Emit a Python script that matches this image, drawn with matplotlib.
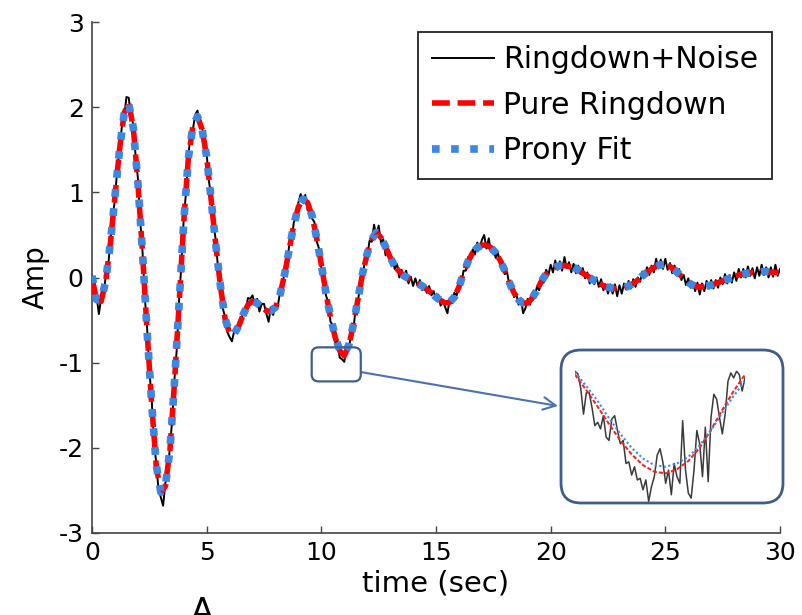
import numpy as np
import matplotlib
matplotlib.use('Agg')
import matplotlib.pyplot as plt
from matplotlib.patches import FancyBboxPatch

plt.rcParams['axes.unicode_minus'] = False

# model curves, sampled every 0.2 s from 0 to 30 s
pure_ringdown = [
    0.00, -0.27, -0.28, -0.04, 0.40, 0.95, 1.50, 1.93, 2.05, 1.76,
    1.12, 0.30, -0.62, -1.48, -2.21, -2.53, -2.45, -2.02, -1.22, -0.30,
    0.65, 1.40, 1.78, 1.89, 1.74, 1.42, 0.90, 0.38, -0.10, -0.48,
    -0.66, -0.66, -0.57, -0.43, -0.32, -0.28, -0.30, -0.35, -0.39, -0.40,
    -0.35, -0.20, 0.04, 0.33, 0.62, 0.83, 0.92, 0.88, 0.72, 0.46,
    0.15, -0.18, -0.47, -0.70, -0.86, -0.92, -0.80, -0.55, -0.25, 0.05,
    0.28, 0.45, 0.53, 0.47, 0.36, 0.24, 0.13, 0.07, 0.02, -0.01,
    -0.04, -0.07, -0.10, -0.14, -0.18, -0.23, -0.27, -0.30, -0.29, -0.23,
    -0.11, 0.05, 0.19, 0.29, 0.35, 0.38, 0.38, 0.35, 0.29, 0.20,
    0.08, -0.06, -0.18, -0.26, -0.30, -0.30, -0.24, -0.15, -0.04, 0.04,
    0.09, 0.12, 0.14, 0.14, 0.13, 0.12, 0.09, 0.05, 0.02, -0.02,
    -0.05, -0.08, -0.11, -0.12, -0.13, -0.13, -0.12, -0.10, -0.07, -0.03,
    0.02, 0.06, 0.10, 0.13, 0.15, 0.15, 0.13, 0.09, 0.04, -0.01,
    -0.06, -0.09, -0.11, -0.11, -0.10, -0.09, -0.07, -0.05, -0.03, -0.01,
    0.01, 0.03, 0.04, 0.05, 0.06, 0.06, 0.07, 0.07, 0.06, 0.06,
    0.06,
]

prony_fit = [
    0.02, -0.26, -0.27, -0.04, 0.40, 0.95, 1.50, 1.92, 2.04, 1.76,
    1.12, 0.30, -0.62, -1.47, -2.20, -2.52, -2.45, -2.02, -1.22, -0.30,
    0.65, 1.40, 1.78, 1.89, 1.74, 1.42, 0.90, 0.38, -0.10, -0.48,
    -0.65, -0.66, -0.57, -0.43, -0.32, -0.28, -0.30, -0.35, -0.38, -0.39,
    -0.35, -0.20, 0.04, 0.33, 0.62, 0.83, 0.92, 0.88, 0.72, 0.46,
    0.15, -0.18, -0.46, -0.69, -0.85, -0.90, -0.79, -0.55, -0.25, 0.05,
    0.28, 0.45, 0.53, 0.47, 0.36, 0.24, 0.13, 0.07, 0.02, -0.01,
    -0.04, -0.07, -0.10, -0.14, -0.18, -0.23, -0.27, -0.29, -0.29, -0.23,
    -0.11, 0.05, 0.19, 0.29, 0.35, 0.38, 0.38, 0.35, 0.29, 0.20,
    0.08, -0.06, -0.18, -0.26, -0.30, -0.30, -0.24, -0.15, -0.04, 0.04,
    0.09, 0.12, 0.14, 0.14, 0.13, 0.12, 0.09, 0.05, 0.02, -0.02,
    -0.05, -0.08, -0.11, -0.12, -0.13, -0.13, -0.12, -0.10, -0.07, -0.03,
    0.02, 0.06, 0.10, 0.13, 0.15, 0.15, 0.13, 0.09, 0.04, -0.01,
    -0.06, -0.09, -0.11, -0.11, -0.10, -0.09, -0.07, -0.05, -0.03, -0.01,
    0.01, 0.03, 0.04, 0.05, 0.06, 0.06, 0.07, 0.07, 0.06, 0.06,
    0.06,
]

# measured signal, sampled every 0.1 s from 0 to 30 s
ringdown_noise = [
    0.03, -0.22, -0.22, -0.43, -0.24, -0.21, 0.02, 0.12, 0.42, 0.72,
    0.91, 1.28, 1.48, 1.77, 1.87, 2.12, 2.11, 1.90, 1.80, 1.43,
    1.17, 0.68, 0.32, -0.22, -0.58, -1.09, -1.42, -1.91, -2.18, -2.49,
    -2.58, -2.68, -2.41, -2.33, -1.97, -1.67, -1.18, -0.83, -0.25, 0.16,
    0.69, 1.00, 1.43, 1.68, 1.74, 1.91, 1.96, 1.81, 1.78, 1.55,
    1.45, 1.13, 0.94, 0.62, 0.43, 0.09, -0.07, -0.36, -0.46, -0.64,
    -0.70, -0.75, -0.63, -0.64, -0.52, -0.54, -0.37, -0.40, -0.24, -0.25,
    -0.21, -0.32, -0.25, -0.40, -0.31, -0.31, -0.42, -0.52, -0.35, -0.44,
    -0.31, -0.34, -0.17, -0.13, 0.10, 0.16, 0.38, 0.42, 0.65, 0.70,
    0.88, 0.98, 0.88, 0.97, 0.79, 0.85, 0.69, 0.65, 0.42, 0.34,
    0.11, 0.03, -0.21, -0.29, -0.52, -0.56, -0.76, -0.75, -0.94, -0.96,
    -0.99, -0.83, -0.84, -0.65, -0.60, -0.36, -0.28, -0.05, 0.01, 0.20,
    0.24, 0.43, 0.42, 0.62, 0.48, 0.61, 0.41, 0.45, 0.26, 0.34,
    0.19, 0.22, 0.10, 0.16, 0.00, 0.09, 0.00, 0.08, -0.07, 0.01,
    -0.10, -0.01, -0.10, -0.03, -0.15, -0.10, -0.18, -0.10, -0.21, -0.16,
    -0.27, -0.20, -0.33, -0.26, -0.35, -0.42, -0.25, -0.30, -0.18, -0.21,
    -0.07, -0.08, 0.08, 0.08, 0.24, 0.22, 0.33, 0.27, 0.41, 0.34,
    0.44, 0.50, 0.34, 0.46, 0.30, 0.35, 0.23, 0.29, 0.17, 0.19,
    0.04, 0.06, -0.09, -0.08, -0.23, -0.19, -0.32, -0.24, -0.42, -0.36,
    -0.25, -0.32, -0.18, -0.23, -0.11, -0.15, -0.01, -0.06, 0.09, 0.03,
    0.15, 0.06, 0.20, 0.09, 0.19, 0.08, 0.24, 0.11, 0.18, 0.06,
    0.16, 0.05, 0.14, 0.04, 0.11, -0.01, 0.06, -0.07, 0.01, -0.08,
    0.00, -0.11, -0.02, -0.15, -0.08, -0.19, -0.08, -0.19, -0.08, -0.22,
    -0.09, -0.19, -0.07, -0.14, -0.04, -0.13, -0.02, -0.11, 0.00, -0.05,
    0.07, 0.00, 0.12, 0.03, 0.14, 0.06, 0.22, 0.11, 0.21, 0.10,
    0.22, 0.09, 0.17, 0.05, 0.14, 0.03, 0.10, -0.03, 0.03, -0.09,
    -0.01, -0.12, -0.06, -0.16, -0.06, -0.20, -0.07, -0.16, -0.04, -0.13,
    -0.03, -0.13, -0.03, -0.12, 0.00, -0.08, 0.04, -0.07, 0.03, -0.06,
    0.06, -0.04, 0.10, 0.00, 0.10, 0.00, 0.13, 0.02, 0.11, -0.01,
    0.12, 0.02, 0.15, 0.03, 0.12, 0.00, 0.12, 0.01, 0.15, 0.02,
    0.10,
]

# close-up of the third trough, 10.5 s to 11.4 s
inset_noise = [
    -0.796, -0.799, -0.816, -0.848, -0.822, -0.822, -0.840, -0.862, -0.858, -0.866,
    -0.850, -0.876, -0.880, -0.854, -0.850, -0.868, -0.884, -0.880, -0.908, -0.906,
    -0.922, -0.912, -0.928, -0.926, -0.940, -0.928, -0.954, -0.936, -0.924, -0.898,
    -0.890, -0.906, -0.932, -0.916, -0.946, -0.908, -0.924, -0.932, -0.856, -0.916,
    -0.944, -0.950, -0.916, -0.868, -0.884, -0.924, -0.864, -0.930, -0.852, -0.824,
    -0.830, -0.852, -0.872, -0.848, -0.808, -0.798, -0.804, -0.796, -0.800, -0.820,
    -0.804,
]
inset_pure = [
    -0.800, -0.819, -0.839, -0.860, -0.880, -0.897, -0.910, -0.918,
    -0.920, -0.915, -0.905, -0.889, -0.867, -0.843, -0.820, -0.800,
]
inset_prony = [
    -0.797, -0.814, -0.832, -0.853, -0.872, -0.889, -0.902, -0.910,
    -0.912, -0.908, -0.900, -0.886, -0.868, -0.846, -0.826, -0.808,
]

t_model = np.linspace(0, 30, len(pure_ringdown))
t_meas = np.linspace(0, 30, len(ringdown_noise))
t_inset = np.linspace(10.5, 11.4, len(inset_noise))
t_inset_model = np.linspace(10.5, 11.4, len(inset_pure))

W, H = 802, 615
blue = '#3a87e6'
frame_blue = '#3f5e8c'

fig = plt.figure(figsize=(W / 100, H / 100), dpi=100)
ax = fig.add_axes([92 / W, 1 - 533 / H, 688 / W, 511 / H])

ax.plot(t_meas, ringdown_noise, color='k', lw=1.4, zorder=2, label='Ringdown+Noise')
ax.plot(t_model, pure_ringdown, color='#ff0000', lw=4, dashes=(3.2, 1.4),
        zorder=3, label='Pure Ringdown')
ax.plot(t_model, prony_fit, color=blue, lw=5.5, dashes=(1, 1.5),
        zorder=4, label='Prony Fit')

ax.set_xlim(0, 30)
ax.set_ylim(-3, 3)
ax.set_xticks(range(0, 31, 5))
ax.set_yticks(range(-3, 4))
for s in ['top', 'right']:
    ax.spines[s].set_visible(False)
for s in ['left', 'bottom']:
    ax.spines[s].set_color('#444444')
    ax.spines[s].set_linewidth(1.2)
ax.tick_params(direction='in', length=5, width=1, color='#444444',
               labelsize=18, pad=6)
ax.set_xlabel('time (sec)', fontsize=21, labelpad=3)
ax.set_ylabel('Amp', fontsize=20, labelpad=6)

leg = ax.legend(loc='upper right', bbox_to_anchor=(772 / W, 1 - 32 / H),
                bbox_transform=fig.transFigure, borderaxespad=0,
                fontsize=21.5, fancybox=False, framealpha=1,
                handlelength=2.1, handletextpad=0.3, labelspacing=0.55,
                borderpad=0.45)
leg.get_frame().set_edgecolor('#222222')
leg.get_frame().set_linewidth(1.3)

# marker around the zoomed trough
zoom_box = FancyBboxPatch((9.58, -1.22), 2.14, 0.40,
                          boxstyle='round,pad=0,rounding_size=0.3',
                          mutation_aspect=0.27, fc='none', ec=frame_blue,
                          lw=1.6, zorder=5)
ax.add_patch(zoom_box)

ax.annotate('', xy=(558 / W, 1 - 406 / H), xycoords='figure fraction',
            xytext=(11.72, -1.11), textcoords='data',
            arrowprops=dict(arrowstyle='->,head_length=0.9,head_width=0.45',
                            color='#4a72b0', lw=1.5, shrinkA=0, shrinkB=0))

# inset panel
panel = FancyBboxPatch((561 / W, 1 - 503 / H), (783 - 561) / W, (503 - 350) / H,
                       boxstyle='round,pad=0,rounding_size=0.025',
                       mutation_aspect=W / H, transform=fig.transFigure,
                       fc='white', ec=frame_blue, lw=2, zorder=6)
fig.add_artist(panel)

ax_in = fig.add_axes([575 / W, 1 - 503 / H, 170 / W, 135 / H], zorder=7)
ax_in.plot(t_inset, inset_noise, color='#3a3a3a', lw=1.1)
ax_in.plot(t_inset_model, inset_pure, color='#ff2020', lw=1.5, dashes=(2, 1))
ax_in.plot(t_inset_model, inset_prony, color=blue, lw=1.5, dashes=(1, 1.2))
ax_in.set_xlim(10.5, 11.4)
ax_in.set_ylim(-0.956, -0.792)
ax_in.axis('off')
ax_in.patch.set_alpha(0)

# panel letter of the figure below, cut by the page edge
fig.text(202 / W, 1 - 622 / H, 'A', ha='center', va='baseline', fontsize=24)

fig.savefig('out.png', dpi=100)
